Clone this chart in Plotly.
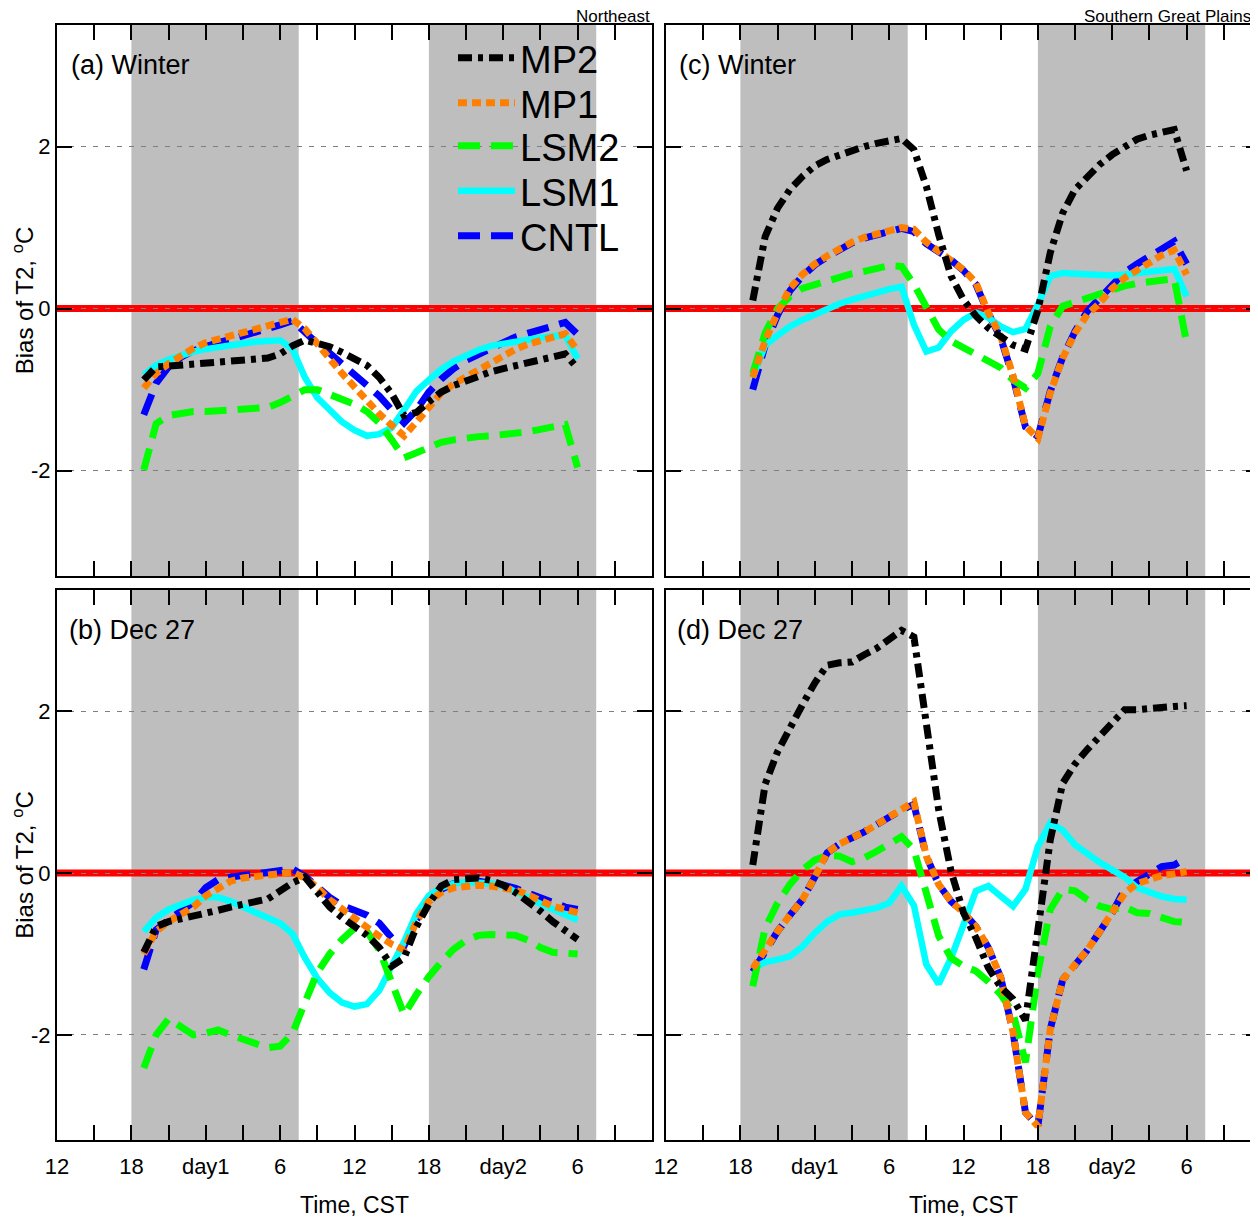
import plotly.graph_objects as go
from plotly.subplots import make_subplots

hours = list(range(19, 55))

tick_vals = [12, 18, 24, 30, 36, 42, 48, 54]
tick_text = ["12", "18", "day1", "6", "12", "18", "day2", "6"]
y_ticks = [-2, 0, 2]

series_names = ["CNTL", "LSM1", "LSM2", "MP1", "MP2"]

# (a) Northeast, Winter
a_cntl = [-1.31,-0.92,-0.72,-0.60,-0.52,-0.46,-0.42,-0.38,-0.34,-0.30,-0.26,-0.20,-0.15,-0.30,-0.43,-0.55,-0.68,-0.80,-0.93,-1.08,-1.25,-1.41,-1.25,-1.03,-0.87,-0.74,-0.64,-0.56,-0.49,-0.42,-0.35,-0.30,-0.26,-0.22,-0.17,-0.32]
a_lsm1 = [-0.82,-0.70,-0.63,-0.57,-0.53,-0.50,-0.47,-0.45,-0.43,-0.41,-0.40,-0.39,-0.50,-0.85,-1.10,-1.26,-1.40,-1.50,-1.57,-1.55,-1.47,-1.25,-1.02,-0.88,-0.75,-0.65,-0.57,-0.51,-0.46,-0.43,-0.40,-0.38,-0.36,-0.34,-0.33,-0.62]
a_lsm2 = [-1.99,-1.42,-1.32,-1.29,-1.27,-1.27,-1.26,-1.25,-1.24,-1.23,-1.22,-1.16,-1.08,-1.00,-1.00,-1.06,-1.12,-1.18,-1.27,-1.41,-1.62,-1.84,-1.78,-1.71,-1.65,-1.62,-1.59,-1.58,-1.57,-1.56,-1.54,-1.52,-1.49,-1.46,-1.43,-1.96]
a_mp1 = [-0.98,-0.80,-0.68,-0.58,-0.49,-0.42,-0.38,-0.35,-0.31,-0.27,-0.23,-0.18,-0.13,-0.25,-0.42,-0.62,-0.80,-0.97,-1.13,-1.30,-1.44,-1.57,-1.40,-1.22,-1.04,-0.93,-0.84,-0.75,-0.66,-0.58,-0.50,-0.44,-0.39,-0.35,-0.31,-0.52]
a_mp2 = [-0.88,-0.72,-0.71,-0.70,-0.69,-0.68,-0.67,-0.65,-0.64,-0.63,-0.61,-0.56,-0.46,-0.39,-0.42,-0.47,-0.54,-0.61,-0.70,-0.85,-1.05,-1.32,-1.28,-1.15,-1.03,-0.95,-0.89,-0.83,-0.78,-0.74,-0.70,-0.67,-0.63,-0.59,-0.56,-0.74]

# (b) Northeast, Dec 27
b_cntl = [-1.19,-0.70,-0.58,-0.48,-0.36,-0.18,-0.08,-0.05,-0.03,-0.02,-0.01,0.01,0.05,-0.04,-0.17,-0.30,-0.40,-0.47,-0.52,-0.62,-0.80,-0.90,-0.58,-0.33,-0.20,-0.13,-0.10,-0.10,-0.12,-0.15,-0.19,-0.25,-0.32,-0.38,-0.42,-0.45]
b_lsm1 = [-0.72,-0.55,-0.45,-0.38,-0.33,-0.30,-0.30,-0.35,-0.42,-0.48,-0.55,-0.62,-0.75,-1.05,-1.30,-1.48,-1.60,-1.65,-1.62,-1.45,-1.15,-0.85,-0.50,-0.28,-0.18,-0.13,-0.11,-0.11,-0.13,-0.16,-0.22,-0.30,-0.38,-0.45,-0.52,-0.58]
b_lsm2 = [-2.41,-2.00,-1.80,-1.90,-2.00,-1.98,-1.94,-2.00,-2.06,-2.12,-2.16,-2.14,-1.98,-1.60,-1.23,-1.00,-0.82,-0.68,-0.72,-0.95,-1.38,-1.75,-1.50,-1.28,-1.10,-0.94,-0.83,-0.77,-0.76,-0.77,-0.77,-0.83,-0.92,-0.98,-0.99,-1.00]
b_mp1 = [-1.00,-0.72,-0.60,-0.52,-0.42,-0.28,-0.18,-0.10,-0.06,-0.04,-0.03,-0.01,0.01,-0.06,-0.18,-0.33,-0.45,-0.56,-0.67,-0.78,-0.88,-0.95,-0.60,-0.35,-0.24,-0.18,-0.16,-0.15,-0.16,-0.18,-0.21,-0.27,-0.35,-0.41,-0.45,-0.49]
b_mp2 = [-0.98,-0.66,-0.60,-0.57,-0.54,-0.50,-0.46,-0.42,-0.39,-0.36,-0.32,-0.22,-0.12,-0.05,-0.22,-0.42,-0.55,-0.66,-0.77,-0.92,-1.15,-1.05,-0.66,-0.38,-0.16,-0.08,-0.06,-0.06,-0.09,-0.15,-0.24,-0.35,-0.47,-0.60,-0.72,-0.82]

# (c) Southern Great Plains, Winter
c_cntl = [-1.00,-0.45,-0.08,0.22,0.40,0.54,0.64,0.73,0.81,0.87,0.92,0.95,0.99,0.95,0.80,0.70,0.60,0.47,0.30,-0.06,-0.36,-0.85,-1.46,-1.58,-1.02,-0.60,-0.28,-0.03,0.12,0.30,0.45,0.55,0.65,0.75,0.83,0.55]
c_lsm1 = [-0.85,-0.45,-0.33,-0.22,-0.14,-0.07,0.00,0.06,0.11,0.16,0.20,0.24,0.27,-0.20,-0.53,-0.48,-0.28,-0.14,-0.05,-0.11,-0.22,-0.29,-0.25,0.05,0.40,0.44,0.43,0.42,0.41,0.41,0.42,0.44,0.46,0.49,0.49,0.15]
c_lsm2 = [-0.80,-0.30,0.00,0.15,0.25,0.30,0.35,0.40,0.43,0.46,0.50,0.53,0.52,0.30,0.02,-0.26,-0.40,-0.48,-0.57,-0.63,-0.73,-0.88,-0.98,-0.80,-0.22,0.03,0.08,0.14,0.19,0.24,0.28,0.31,0.33,0.36,0.37,-0.42]
c_mp1 = [-0.85,-0.40,-0.05,0.25,0.42,0.55,0.65,0.74,0.82,0.88,0.93,0.96,1.00,0.98,0.82,0.71,0.60,0.48,0.32,-0.05,-0.34,-0.83,-1.45,-1.60,-1.04,-0.61,-0.30,-0.07,0.07,0.25,0.38,0.48,0.57,0.66,0.72,0.42]
c_mp2 = [0.10,0.89,1.24,1.47,1.63,1.76,1.84,1.90,1.94,2.00,2.04,2.07,2.10,1.96,1.51,0.91,0.40,0.11,-0.09,-0.24,-0.34,-0.45,-0.50,-0.02,0.69,1.18,1.47,1.63,1.78,1.90,2.00,2.09,2.14,2.18,2.21,1.70]

# (d) Southern Great Plains, Dec 27
d_cntl = [-1.22,-0.95,-0.72,-0.52,-0.33,-0.05,0.25,0.36,0.43,0.51,0.60,0.70,0.78,0.85,0.21,-0.14,-0.35,-0.49,-0.66,-0.92,-1.29,-1.97,-2.96,-3.13,-1.93,-1.32,-1.13,-0.95,-0.72,-0.49,-0.20,-0.10,0.00,0.08,0.10,0.19]
d_lsm1 = [-1.18,-1.10,-1.07,-1.03,-0.91,-0.74,-0.60,-0.51,-0.49,-0.46,-0.43,-0.37,-0.16,-0.40,-1.13,-1.37,-1.05,-0.64,-0.22,-0.16,-0.29,-0.41,-0.20,0.33,0.62,0.53,0.35,0.23,0.13,0.04,-0.05,-0.18,-0.24,-0.29,-0.32,-0.33]
d_lsm2 = [-1.40,-0.68,-0.37,-0.14,0.04,0.16,0.22,0.21,0.14,0.19,0.27,0.37,0.45,0.29,-0.24,-0.78,-1.05,-1.15,-1.21,-1.34,-1.50,-1.73,-2.34,-1.23,-0.45,-0.20,-0.22,-0.33,-0.41,-0.45,-0.42,-0.49,-0.50,-0.54,-0.60,-0.61]
d_mp1 = [-1.18,-0.93,-0.72,-0.52,-0.33,-0.05,0.25,0.36,0.43,0.51,0.60,0.70,0.78,0.88,0.21,-0.14,-0.35,-0.49,-0.66,-0.92,-1.29,-1.97,-2.96,-3.13,-1.93,-1.32,-1.13,-0.95,-0.72,-0.49,-0.25,-0.13,-0.07,-0.03,-0.01,0.02]
d_mp2 = [0.10,1.10,1.50,1.80,2.08,2.35,2.57,2.60,2.61,2.70,2.78,2.89,3.00,2.92,1.85,0.78,0.02,-0.49,-0.80,-1.17,-1.41,-1.56,-1.82,-0.75,0.41,1.11,1.35,1.53,1.70,1.88,2.02,2.02,2.04,2.06,2.06,2.07]

panels = [
    (1, 1, [a_cntl, a_lsm1, a_lsm2, a_mp1, a_mp2]),
    (1, 2, [c_cntl, c_lsm1, c_lsm2, c_mp1, c_mp2]),
    (2, 1, [b_cntl, b_lsm1, b_lsm2, b_mp1, b_mp2]),
    (2, 2, [d_cntl, d_lsm1, d_lsm2, d_mp1, d_mp2]),
]

styles = {
    "CNTL": dict(color="#0000FF", width=7, dash="22px,11px"),
    "LSM1": dict(color="#00FFFF", width=6.5, dash="solid"),
    "LSM2": dict(color="#00FF00", width=7, dash="22px,11px"),
    "MP1": dict(color="#FF7F00", width=7, dash="9px,5px"),
    "MP2": dict(color="#000000", width=7, dash="14px,6px,5px,6px"),
}
legend_ids = {"MP2": "legend", "MP1": "legend2", "LSM2": "legend3", "LSM1": "legend4", "CNTL": "legend5"}
legend_rows = {"MP2": 58, "MP1": 103, "LSM2": 146, "LSM1": 191, "CNTL": 236}

FONT = "Liberation Sans, Arial, Helvetica, sans-serif"

# page has an 8px body margin; figure coordinates = page coordinates - 8
OFF = 8
W, H = 1253, 1210
ml, mr, mt, mb = 57 - OFF, 0, 25 - OFF, 78
pw, ph = W - ml - mr, H - mt - mb

fig = make_subplots(rows=2, cols=2, horizontal_spacing=0.012, vertical_spacing=0.012)

for (r, c, data) in panels:
    for name, vals in zip(series_names, data):
        fig.add_trace(
            go.Scatter(
                x=hours, y=vals, mode="lines", name=name,
                line=styles[name],
                showlegend=(r == 1 and c == 1),
                legend=legend_ids[name],
                hoverinfo="skip",
            ),
            row=r, col=c,
        )

x_left = [0, 595 / pw]
x_right = [609 / pw, 1]
y_top = [(1140 - 576) / ph, 1]
y_bot = [0, 550 / ph]

axis_common = dict(
    showline=True, linecolor="black", linewidth=2, mirror="allticks",
    ticks="inside", ticklen=15, tickwidth=2, tickcolor="black",
    tickfont=dict(family=FONT, size=22, color="black"),
    zeroline=False, automargin=False,
)

for idx, (r, c, _) in enumerate(panels, start=1):
    xa = "xaxis" if idx == 1 else f"xaxis{idx}"
    ya = "yaxis" if idx == 1 else f"yaxis{idx}"
    fig.layout[xa].update(
        domain=x_left if c == 1 else x_right,
        range=[12, 60],
        tickmode="array", tickvals=tick_vals, ticktext=tick_text,
        minor=dict(dtick=3, tick0=12, ticks="inside", ticklen=15, tickwidth=2, tickcolor="black", showgrid=False),
        showticklabels=(r == 2), showgrid=False,
        ticklabelstandoff=6,
        **axis_common,
    )
    fig.layout[ya].update(
        domain=y_top if r == 1 else y_bot,
        range=[-3.3, 3.5],
        tickmode="array", tickvals=y_ticks, ticktext=["-2", "0", "2"],
        showticklabels=(c == 1),
        showgrid=True, gridcolor="#808080", gridwidth=1, griddash="5px,7px",
        **axis_common,
    )
    if r == 2:
        fig.layout[xa].title = dict(text="Time, CST", font=dict(family=FONT, size=23, color="black"), standoff=19)
    if c == 1:
        fig.layout[ya].title = dict(text="Bias of T2, <sup>o</sup>C", font=dict(family=FONT, size=24, color="black"), standoff=10)

shapes = []
for idx in range(1, 5):
    xr = "x" if idx == 1 else f"x{idx}"
    yr = "y" if idx == 1 else f"y{idx}"
    for (s0, s1) in [(18, 31.5), (42, 55.5)]:
        shapes.append(dict(type="rect", xref=xr, yref=f"{yr} domain", x0=s0, x1=s1, y0=0, y1=1,
                           fillcolor="#BEBEBE", line=dict(width=0), layer="below"))
    shapes.append(dict(type="line", xref=f"{xr} domain", yref=yr, x0=0, x1=1, y0=0, y1=0,
                       line=dict(color="#FF0000", width=7), layer="below"))
fig.update_layout(shapes=shapes)

labels = [("x", "y", "(a) Winter", 13.0), ("x2", "y2", "(c) Winter", 12.9),
          ("x3", "y3", "(b) Dec 27", 12.8), ("x4", "y4", "(d) Dec 27", 12.7)]
ann = []
for xr, yr, txt, xv in labels:
    ann.append(dict(x=xv, y=3.01, xref=xr, yref=yr, text=txt, showarrow=False,
                    xanchor="left", yanchor="middle",
                    font=dict(family=FONT, size=27, color="black")))
ann.append(dict(x=x_left[1], y=1, xref="paper", yref="paper", text="Northeast", showarrow=False,
                xanchor="right", yanchor="bottom", yshift=-3,
                font=dict(family=FONT, size=17, color="black")))
ann.append(dict(x=(1082 - OFF - ml) / pw, y=1, xref="paper", yref="paper", text="Southern Great Plains",
                showarrow=False, xanchor="left", yanchor="bottom", yshift=-3,
                font=dict(family=FONT, size=17, color="black")))
fig.update_layout(annotations=ann)

legend_layout = {}
for name, lid in legend_ids.items():
    fy = legend_rows[name] - OFF
    legend_layout[lid] = dict(
        x=(453 - OFF - ml) / pw, y=1 - (fy - mt) / ph, xanchor="left", yanchor="middle",
        bgcolor="rgba(0,0,0,0)", borderwidth=0,
        font=dict(family=FONT, size=38, color="black"),
        itemwidth=57,
    )

fig.update_layout(
    width=W, height=H,
    margin=dict(l=ml, r=mr, t=mt, b=mb, pad=0, autoexpand=False),
    paper_bgcolor="white", plot_bgcolor="white",
    font=dict(family=FONT, color="black"),
    **legend_layout,
)

fig.write_html("out.html")
